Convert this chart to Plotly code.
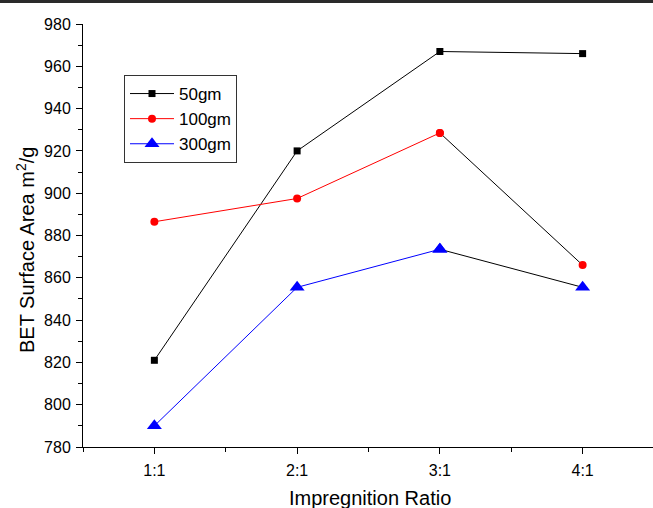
import plotly.graph_objects as go

# Impregnation ratio categories and BET surface area (m2/g) per carbon dose
ratios = ["1:1", "2:1", "3:1", "4:1"]
xpos = [1, 2, 3, 4]
bet_50gm = [821, 920, 967, 966]
bet_100gm = [886.5, 897.5, 928.5, 866]
bet_300gm = [790, 855.5, 873.5, 855.5]

W, H = 653, 508
ML, MR, MT, MB = 83, 0, 24, 61
plot_w = W - ML - MR
plot_h = H - MT - MB

fig = go.Figure()

# 50gm: one black polyline through all ratios
fig.add_trace(go.Scatter(
    x=xpos, y=bet_50gm, name="50gm", mode="lines+markers",
    line=dict(color="black", width=1),
    marker=dict(symbol="square", size=7, color="black"),
))

# 100gm and 300gm: coloured lines up to 3:1, black connector to 4:1
for name, vals, color, sym, size in [
    ("100gm", bet_100gm, "#ff0000", "circle", 8),
    ("300gm", bet_300gm, "#0000ff", "triangle-up", 13),
]:
    fig.add_trace(go.Scatter(
        x=xpos[:3], y=vals[:3], name=name, mode="lines+markers",
        line=dict(color=color, width=1),
        marker=dict(symbol=sym, size=size, color=color),
    ))
    fig.add_trace(go.Scatter(
        x=xpos[2:], y=vals[2:], mode="lines+markers", showlegend=False,
        line=dict(color="black", width=1),
        marker=dict(symbol=sym, size=size, color=color),
    ))

font_family = "Liberation Sans, Arial, sans-serif"

fig.update_layout(
    width=W, height=H,
    margin=dict(l=ML, r=MR, t=MT, b=MB, pad=0),
    paper_bgcolor="white", plot_bgcolor="white",
    font=dict(family=font_family, color="black", size=16),
    showlegend=True,
    legend=dict(
        x=(124 - ML) / plot_w, y=(H - MB - 75) / plot_h,
        xanchor="left", yanchor="top",
        bgcolor="white", bordercolor="#333333", borderwidth=1,
        font=dict(size=17, family=font_family), itemwidth=44,
        entrywidth=70, tracegroupgap=0,
    ),
    xaxis=dict(
        title=dict(text=""),
        range=[0.5, 4.5 - (ML + 4 * 143 - W) / 143 + (84 - ML) / 143],
        tickmode="array", tickvals=xpos, ticktext=ratios,
        ticks="outside", ticklen=6, tickwidth=1, tickcolor="black",
        minor=dict(ticks="outside", ticklen=4, tickwidth=1, tickcolor="black",
                   tickmode="array", tickvals=[0.5, 1.5, 2.5, 3.5]),
        showline=True, linecolor="black", linewidth=1,
        showgrid=False, zeroline=False,
        tickfont=dict(size=16), ticklabelstandoff=3,
    ),
    yaxis=dict(
        title=dict(text=""),
        range=[780, 980], dtick=20, tick0=780,
        ticks="outside", ticklen=6, tickwidth=1, tickcolor="black",
        minor=dict(ticks="outside", ticklen=4, tickwidth=1, tickcolor="black", dtick=10),
        showline=True, linecolor="black", linewidth=1,
        showgrid=False, zeroline=False,
        tickfont=dict(size=16), ticklabelstandoff=2,
    ),
    annotations=[
        dict(text="Impregnition Ratio", xref="paper", yref="paper",
             x=(370 - ML) / plot_w, y=(H - MB - 498) / plot_h,
             xanchor="center", yanchor="middle", showarrow=False,
             font=dict(size=20, family=font_family)),
        dict(text="BET Surface Area m<sup>2</sup>/g", xref="paper", yref="paper",
             x=(25 - ML) / plot_w, y=(H - MB - 250) / plot_h,
             xanchor="center", yanchor="middle", showarrow=False, textangle=-90,
             font=dict(size=20, family=font_family)),
    ],
    shapes=[dict(
        type="rect", xref="paper", yref="paper",
        x0=-ML / plot_w, x1=1.0,
        y0=(H - MB - 3) / plot_h, y1=(H - MB) / plot_h,
        fillcolor="#2a2a2a", line=dict(width=0), layer="above",
    )],
)

fig.write_html("out.html")
